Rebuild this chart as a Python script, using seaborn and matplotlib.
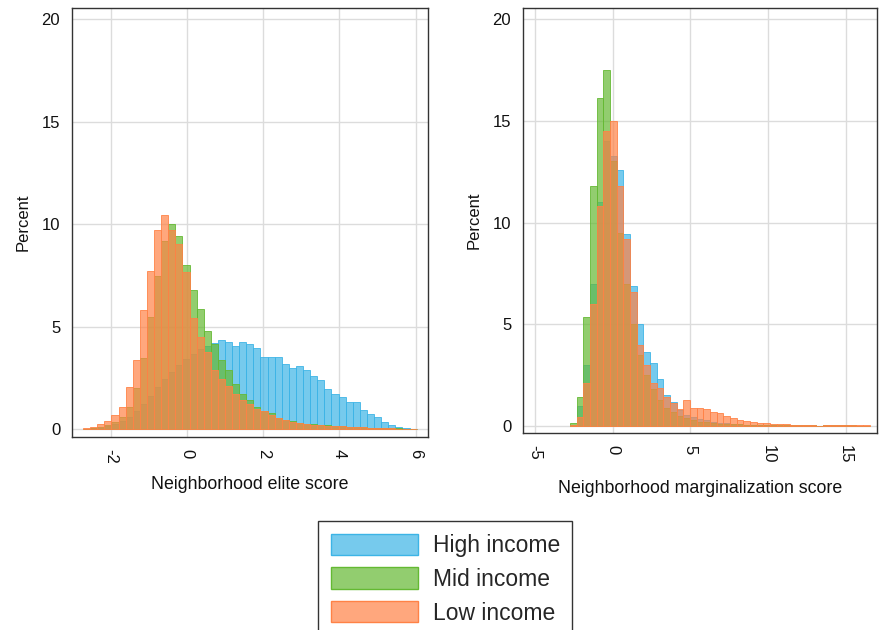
import numpy as np
import pandas as pd
from matplotlib import pyplot as plt
from matplotlib.colors import to_rgba
from matplotlib.patches import Patch
import seaborn as sns

groups = ["High income", "Mid income", "Low income"]
group_colors = {"High income": "#3cb4e6", "Mid income": "#64b932", "Low income": "#ff8246"}

# elite score panel: 47 bins
elite_start = -2.72
elite_width = 0.186
elite_high = [0.03, 0.05, 0.08, 0.15, 0.25, 0.4, 0.6, 0.9, 1.25, 1.65, 2.05, 2.45, 2.8, 3.15,
              3.45, 3.7, 3.9, 4.05, 4.22, 4.38, 4.27, 4.07, 4.27, 4.16, 3.98, 3.54, 3.51, 3.51,
              3.18, 3.0, 3.08, 2.89, 2.6, 2.4, 1.95, 1.75, 1.59, 1.35, 1.35, 0.97, 0.75, 0.62,
              0.37, 0.21, 0.13, 0.06, 0.03]
elite_mid = [0.02, 0.05, 0.1, 0.2, 0.35, 0.6, 1.1, 2.0, 3.5, 5.5, 7.5, 9.2, 10.0, 9.46, 8.0,
             6.79, 5.89, 4.8, 4.19, 3.38, 2.92, 2.2, 1.75, 1.43, 1.1, 0.91, 0.78, 0.58, 0.45,
             0.4, 0.32, 0.28, 0.25, 0.22, 0.2, 0.18, 0.16, 0.14, 0.12, 0.1, 0.09, 0.08, 0.07,
             0.06, 0.05, 0.04, 0.0]
elite_low = [0.05, 0.13, 0.24, 0.42, 0.71, 1.10, 2.05, 3.38, 5.84, 7.73, 9.74, 10.47, 9.75,
             9.06, 7.68, 5.45, 4.51, 3.78, 2.92, 2.48, 2.11, 1.75, 1.43, 1.23, 1.02, 0.89, 0.70,
             0.57, 0.45, 0.37, 0.29, 0.25, 0.22, 0.2, 0.18, 0.16, 0.15, 0.13, 0.12, 0.1, 0.09,
             0.08, 0.06, 0.05, 0.04, 0.03, 0.02]

# marginalization score panel: 45 bins
marg_start = -2.75
marg_width = 0.429
marg_high = [0.05, 1.0, 3.0, 7.0, 11.0, 14.0, 13.25, 12.6, 9.44, 6.9, 5.0, 3.62, 3.08, 2.31,
             1.52, 1.2, 0.79, 0.54, 0.45, 0.35, 0.28, 0.22, 0.17, 0.13, 0.1, 0.08, 0.06, 0.05,
             0.04, 0.03, 0.03, 0.02, 0.02, 0.02, 0.01, 0.01, 0.01, 0.0, 0.01, 0.01, 0.01, 0.01,
             0.01, 0.0, 0.0]
marg_mid = [0.15, 1.43, 5.37, 11.8, 16.1, 17.5, 13.0, 9.5, 7.0, 5.0, 3.5, 2.5, 1.8, 1.3, 0.9,
            0.7, 0.5, 0.4, 0.3, 0.22, 0.18, 0.15, 0.12, 0.1, 0.09, 0.08, 0.07, 0.06, 0.06, 0.05,
            0.05, 0.05, 0.04, 0.04, 0.04, 0.04, 0.03, 0.0, 0.04, 0.04, 0.03, 0.03, 0.03, 0.02, 0.0]
marg_low = [0.05, 0.45, 2.1, 6.0, 10.8, 14.5, 15.0, 11.8, 9.2, 6.6, 4.0, 3.0, 2.1, 1.85, 1.44,
            1.15, 0.82, 1.28, 0.9, 0.9, 0.84, 0.7, 0.62, 0.49, 0.38, 0.3, 0.25, 0.2, 0.16, 0.13,
            0.11, 0.09, 0.08, 0.07, 0.06, 0.05, 0.05, 0.0, 0.05, 0.04, 0.05, 0.04, 0.04, 0.05, 0.04]


def long_table(start, width, high, mid, low):
    n = len(high)
    edges = start + width * np.arange(n + 1)
    centers = (edges[:-1] + edges[1:]) / 2
    rows = []
    for g, vals in zip(groups, [high, mid, low]):
        rows.append(pd.DataFrame({"score": centers, "pct": vals, "group": g}))
    return pd.concat(rows, ignore_index=True), [float(e) for e in edges]


sns.set_style("white")
plt.rcParams['font.family'] = ['Liberation Sans', 'DejaVu Sans']
plt.rcParams['axes.unicode_minus'] = False

fig = plt.figure(figsize=(8.82, 6.3), dpi=100)
ax1 = fig.add_axes([72 / 882, 1 - 437 / 630, 356 / 882, 429 / 630])
ax2 = fig.add_axes([523 / 882, 1 - 433 / 630, 354 / 882, 425 / 630])

panels = [
    (ax1, long_table(elite_start, elite_width, elite_high, elite_mid, elite_low),
     "Neighborhood elite score", [-2, 0, 2, 4, 6], (-3.01, 6.32), (-0.37, 20.56), 9),
    (ax2, long_table(marg_start, marg_width, marg_high, marg_mid, marg_low),
     "Neighborhood marginalization score", [-5, 0, 5, 10, 15], (-5.78, 17.02), (-0.34, 20.54), 12),
]

for ax, (df, edges), xlabel, xticks, xlim, ylim, xpad in panels:
    for g in groups:
        sub = df[df["group"] == g]
        sns.histplot(data=sub, x="score", weights="pct", bins=edges, ax=ax,
                     color=group_colors[g], alpha=0.7,
                     edgecolor=to_rgba(group_colors[g], 0.85), linewidth=0.7)
    ax.set_xlim(*xlim)
    ax.set_ylim(*ylim)
    ax.set_xticks(xticks)
    ax.set_yticks([0, 5, 10, 15, 20])
    ax.grid(True, color="#dcdcdc", linewidth=1)
    ax.set_axisbelow(True)
    for s in ax.spines.values():
        s.set_color("#333333")
        s.set_linewidth(1)
    ax.tick_params(direction="out", length=5, width=1, color="#333333",
                   labelsize=12, labelcolor="#111111")
    ax.tick_params(axis="x", labelrotation=-90)
    ax.set_xlabel(xlabel, fontsize=12.8, color="#111111", labelpad=xpad)
    ax.set_ylabel("Percent", fontsize=12, color="#111111", labelpad=8)

handles = [Patch(facecolor=to_rgba(group_colors[g], 0.7), edgecolor=group_colors[g],
                 linewidth=1, label=g) for g in groups]
fig.legend(handles=handles, loc="upper left", bbox_to_anchor=(318 / 882, 1 - 521 / 630),
           fontsize=16.5, frameon=True, fancybox=False, edgecolor="#333333",
           handlelength=3.8, handleheight=1.05, labelspacing=0.45, handletextpad=0.65,
           borderpad=0.55, borderaxespad=0, framealpha=1)

fig.savefig("out.png", dpi=100)
